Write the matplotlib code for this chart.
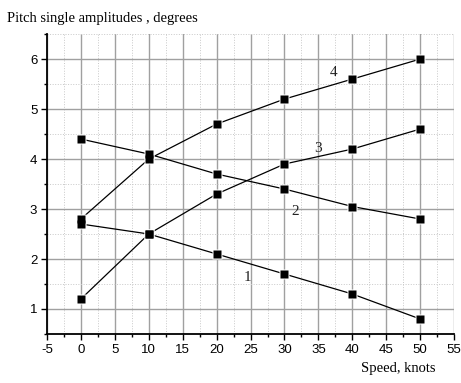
import numpy as np
import matplotlib
matplotlib.use("Agg")
import matplotlib.pyplot as plt
from matplotlib.ticker import MultipleLocator

plt.rcParams["axes.unicode_minus"] = False

# speed, knots
speed = [0, 10, 20, 30, 40, 50]
# pitch single amplitudes, degrees
amp_1 = [2.7, 2.5, 2.1, 1.7, 1.3, 0.8]
amp_2 = [4.4, 4.1, 3.7, 3.4, 3.05, 2.8]
amp_3 = [1.2, 2.5, 3.3, 3.9, 4.2, 4.6]
amp_4 = [2.8, 4.0, 4.7, 5.2, 5.6, 6.0]
curve_labels = ["1", "2", "3", "4"]
label_pos = [(24.5, 1.62), (31.6, 2.96), (35.0, 4.22), (37.3, 5.74)]

fig = plt.figure(figsize=(4.61, 3.83), dpi=100)
ax = fig.add_axes([0.102, 0.128, 0.883, 0.783])

series = (amp_1, amp_2, amp_3, amp_4)
for ys in series:
    ax.plot(speed, ys, color="black", lw=0.9, zorder=3)
# white halo first so lines stop short of the markers, then solid markers
for ys in series:
    ax.plot(speed, ys, ls="none", marker="s", ms=7.2, mfc="white", mec="none", zorder=4)
for ys in series:
    ax.plot(speed, ys, ls="none", marker="s", ms=5.6, mfc="black", mec="none", zorder=5)

for txt, (lx, ly) in zip(curve_labels, label_pos):
    ax.text(lx, ly, txt, fontsize=11, family="Liberation Serif",
            ha="center", va="center", color="#222222")

ax.set_xlim(-5, 55)
ax.set_ylim(0.5, 6.5)
ax.xaxis.set_major_locator(MultipleLocator(5))
ax.xaxis.set_minor_locator(MultipleLocator(2.5))
ax.yaxis.set_major_locator(MultipleLocator(1))
ax.yaxis.set_minor_locator(MultipleLocator(0.5))
ax.grid(which="major", color="#a0a0a0", lw=1.0)
ax.grid(which="minor", color="#c8c8c8", lw=0.7, ls=":")
ax.set_axisbelow(True)

for s in ("top", "right"):
    ax.spines[s].set_visible(False)
for s in ("left", "bottom"):
    ax.spines[s].set_linewidth(1.3)
ax.tick_params(which="major", direction="out", length=4, width=1.0,
               labelsize=9.5, pad=3)
ax.tick_params(which="minor", direction="out", length=2.5, width=1.0)
ax.set_yticks([1, 2, 3, 4, 5, 6])
for lbl in ax.get_xticklabels() + ax.get_yticklabels():
    lbl.set_family("Liberation Sans")

fig.text(0.015, 0.952, "Pitch single amplitudes , degrees",
         family="Liberation Serif", fontsize=10.5, va="center", ha="left")
fig.text(0.945, 0.02, "Speed, knots", family="Liberation Serif",
         fontsize=10.5, va="bottom", ha="right")

fig.savefig("out.png", dpi=100)
